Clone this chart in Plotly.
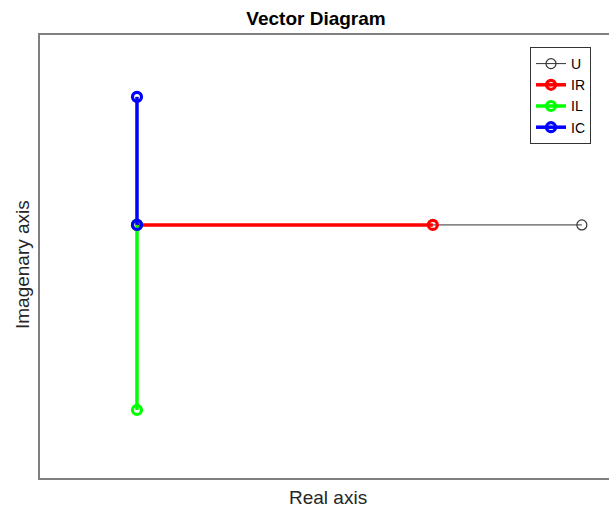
import plotly.graph_objects as go

# phasor data (real, imaginary parts)
names = ["U", "IR", "IL", "IC"]
real_parts = [10.0, 6.65, 0.0, 0.0]
imag_parts = [0.0, 0.0, -4.16, 2.88]
colors = ["#333333", "#ff0000", "#00ff00", "#0000ff"]
widths = [1, 3.5, 3.5, 3.5]

fig = go.Figure()
for n, re, im, c, w in zip(names, real_parts, imag_parts, colors, widths):
    fig.add_trace(go.Scatter(
        x=[0, re], y=[0, im], name=n, mode="lines+markers",
        line=dict(color=c, width=w),
        marker=dict(symbol="circle-open", size=10 if n == "U" else 9,
                    color=c, line=dict(width=1.2 if n == "U" else 3.2)),
    ))

L, T, B, W, H = 40, 35, 30, 609, 508
fig.update_layout(
    width=W, height=H,
    margin=dict(l=L, r=0, t=T, b=B),
    paper_bgcolor="white", plot_bgcolor="white",
    font=dict(family="Liberation Sans, Arial, sans-serif", color="#262626"),
    title=dict(text="<b>Vector Diagram</b>", x=(316 - L) / (W - L), xref="paper",
               xanchor="center", y=1 - 18 / H, yanchor="middle",
               font=dict(size=19, color="#000000")),
    xaxis=dict(range=[-2.18, 10.61], showgrid=False, zeroline=False,
               showticklabels=False, ticks="", showline=True, linecolor="#7f7f7f",
               linewidth=1.5, mirror=True),
    yaxis=dict(range=[-5.69, 4.27], showgrid=False, zeroline=False,
               showticklabels=False, ticks="", showline=True, linecolor="#7f7f7f",
               linewidth=1.5, mirror=False),
    legend=dict(x=(591 - L) / (W - L), y=(478 - 47) / (478 - T), xanchor="right",
                yanchor="top", bgcolor="white", bordercolor="#333333", borderwidth=1,
                font=dict(size=14, color="#000000"), tracegroupgap=0,
                itemwidth=30),
    showlegend=True,
)
fig.add_annotation(text="Real axis", xref="paper", yref="paper",
                   x=(328 - L) / (W - L), y=-(497 - 478) / (478 - T),
                   xanchor="center", yanchor="middle", showarrow=False,
                   font=dict(size=19, color="#262626"))
fig.add_annotation(text="Imagenary axis", xref="paper", yref="paper",
                   x=-(40 - 22) / (W - L), y=(478 - 265) / (478 - T),
                   xanchor="center", yanchor="middle", showarrow=False, textangle=-90,
                   font=dict(size=19, color="#262626"))

fig.write_html("out.html", config={"displayModeBar": False},
               post_script="document.body.style.margin='0';"
                           "document.body.style.overflow='hidden';")
